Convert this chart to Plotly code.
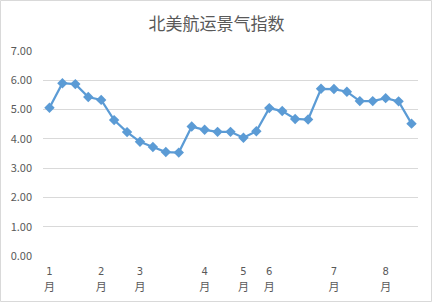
import plotly.graph_objects as go

title = "北美航运景气指数"
values = [5.06, 5.90, 5.87, 5.43, 5.33, 4.64, 4.23, 3.90, 3.72, 3.55, 3.53,
          4.42, 4.31, 4.24, 4.24, 4.04, 4.26, 5.05, 4.95, 4.68, 4.66,
          5.71, 5.70, 5.61, 5.29, 5.29, 5.39, 5.28, 4.52]
label_idx = [0, 4, 7, 12, 15, 17, 22, 26]
label_month = ["1", "2", "3", "4", "5", "6", "7", "8"]
label_unit = ["月"] * len(label_idx)
yticks = [0, 1, 2, 3, 4, 5, 6, 7]

x = list(range(len(values)))
font = "Noto Sans CJK SC, Noto Sans, sans-serif"
digit_font = "DejaVu Sans, sans-serif"
grey = "#595959"

fig = go.Figure(go.Scatter(
    x=x, y=values, mode="lines+markers",
    line=dict(color="#5b9bd5", width=2.25),
    marker=dict(symbol="diamond", size=8, color="#5b9bd5"),
))
# invisible helper trace so the second x axis (unit row of the labels) is drawn
fig.add_trace(go.Scatter(x=[x[0]], y=[values[0]], xaxis="x2", mode="markers",
                         marker=dict(opacity=0), hoverinfo="skip"))

W, H = 433, 303
l, r, t, b = 43, 15, 51, 47
pw, ph = W - l - r, H - t - b
xr = [-0.5, len(values) - 0.5]

fig.update_layout(
    width=W, height=H,
    margin=dict(l=l, r=r, t=t, b=b, autoexpand=False),
    paper_bgcolor="white", plot_bgcolor="white",
    showlegend=False,
    title=dict(text=title, x=0.5, xanchor="center", y=1 - 24 / H, yanchor="middle",
               font=dict(family=font, size=17, color=grey)),
    xaxis=dict(range=xr, tickmode="array", tickvals=label_idx, automargin=False,
               ticktext=label_month, showgrid=False, zeroline=False, showline=False,
               ticks="", ticklabelstandoff=8,
               tickfont=dict(family=digit_font, size=10, color=grey)),
    xaxis2=dict(range=xr, overlaying="x", side="bottom", anchor="y", automargin=False,
                tickmode="array", tickvals=label_idx, ticktext=label_unit,
                showgrid=False, zeroline=False, showline=False,
                ticks="", ticklabelstandoff=23,
                tickfont=dict(family=font, size=11, color=grey)),
    yaxis=dict(range=[0, 7], tickvals=yticks, tickformat=".2f", showgrid=True,
               automargin=False,
               gridcolor="#d9d9d9", gridwidth=1, zeroline=False, showline=False,
               ticks="", ticklabelstandoff=10,
               tickfont=dict(family=font, size=11, color=grey)),
    shapes=[dict(type="rect", xref="paper", yref="paper",
                 x0=-(l - 0.5) / pw, x1=1 + (r - 1.5) / pw,
                 y0=-(b - 1.5) / ph, y1=1 + (t - 0.5) / ph,
                 line=dict(color="#d9d9d9", width=1), layer="below")],
)

fig.write_html("out.html")
